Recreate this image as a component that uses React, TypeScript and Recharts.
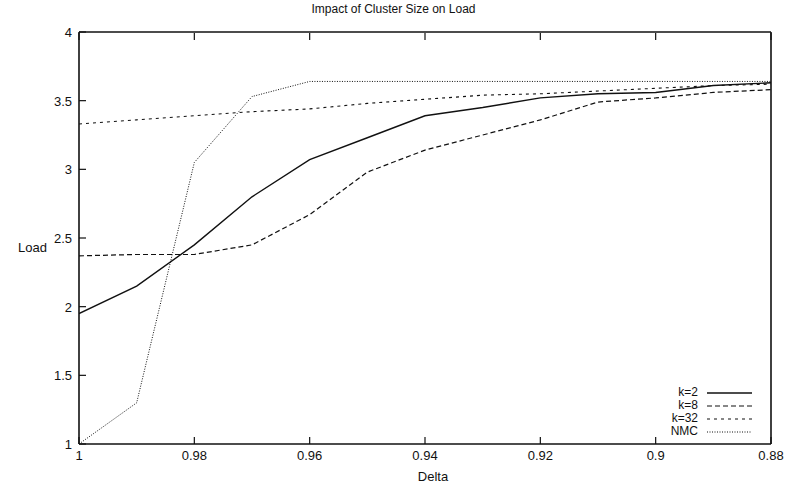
import React from 'react';
import { LineChart, Line, XAxis, YAxis } from 'recharts';

const deltas = [1, 0.99, 0.98, 0.97, 0.96, 0.95, 0.94, 0.93, 0.92, 0.91, 0.9, 0.89, 0.88];
const k2 = [1.95, 2.15, 2.45, 2.8, 3.07, 3.23, 3.39, 3.45, 3.52, 3.55, 3.56, 3.61, 3.63];
const k8 = [2.37, 2.38, 2.38, 2.45, 2.67, 2.98, 3.14, 3.25, 3.36, 3.49, 3.52, 3.56, 3.58];
const k32 = [3.33, 3.36, 3.39, 3.42, 3.44, 3.48, 3.51, 3.54, 3.55, 3.57, 3.59, 3.61, 3.62];
const nmc = [1.0, 1.3, 3.05, 3.53, 3.64, 3.64, 3.64, 3.64, 3.64, 3.64, 3.64, 3.64, 3.64];
const xTicks = [1, 0.98, 0.96, 0.94, 0.92, 0.9, 0.88];
const yTicks = [1, 1.5, 2, 2.5, 3, 3.5, 4];

const data = deltas.map((d, i) => ({ delta: d, k2: k2[i], k8: k8[i], k32: k32[i], nmc: nmc[i] }));

const series = [
  { key: 'k2', name: 'k=2', dash: undefined as string | undefined, width: 1.4 },
  { key: 'k8', name: 'k=8', dash: '5 3', width: 1.2 },
  { key: 'k32', name: 'k=32', dash: '3 4', width: 1.1 },
  { key: 'nmc', name: 'NMC', dash: '1 1.5', width: 1 },
];

const FONT = '"Liberation Sans", Arial, sans-serif';
const INK = '#111';

const BottomTick = ({ x, y, payload }: any) => (
  <g>
    <line x1={x} x2={x} y1={y - 8} y2={y - 15} stroke={INK} strokeWidth={1.2} />
    <text x={x} y={y + 8} textAnchor="middle" fontSize={13} fontFamily={FONT} fill={INK}>
      {String(payload.value)}
    </text>
  </g>
);

const LeftTick = ({ x, y, payload }: any) => (
  <g>
    <line x1={x + 7} x2={x + 14} y1={y} y2={y} stroke={INK} strokeWidth={1.2} />
    <text x={x} y={y + 5} textAnchor="end" fontSize={13} fontFamily={FONT} fill={INK}>
      {String(payload.value)}
    </text>
  </g>
);

const TopTick = ({ x, y }: any) => (
  <line x1={x} x2={x} y1={y + 1} y2={y + 8} stroke={INK} strokeWidth={1.2} />
);

const RightTick = ({ x, y }: any) => (
  <line x1={x - 1} x2={x - 8} y1={y} y2={y} stroke={INK} strokeWidth={1.2} />
);

const LegendBox = () => (
  <div style={{ position: 'absolute', left: 630, top: 386, fontFamily: FONT, fontSize: 12, color: INK }}>
    {series.map((s) => (
      <div key={s.key} style={{ display: 'flex', alignItems: 'center', height: 13 }}>
        <span style={{ width: 68, textAlign: 'right', lineHeight: '13px' }}>{s.name}</span>
        <svg width={56} height={13} style={{ marginLeft: 9 }}>
          <line x1={0} x2={45} y1={7} y2={7} stroke={INK} strokeWidth={s.width} strokeDasharray={s.dash} />
        </svg>
      </div>
    ))}
  </div>
);

export default function App() {
  return (
    <div style={{ position: 'absolute', left: 0, top: 0, width: 787, height: 486, background: '#fff' }}>
      <div style={{ position: 'absolute', top: 2, left: 0, width: 787, textAlign: 'center', fontFamily: FONT, fontSize: 12, color: INK }}>
        Impact of Cluster Size on Load
      </div>
      <LineChart width={787} height={486} data={data} margin={{ top: 31, right: 15, left: 0, bottom: 0 }}>
        <XAxis
          dataKey="delta"
          type="number"
          domain={[0.88, 1]}
          ticks={xTicks}
          reversed
          height={42}
          tickSize={0}
          tickMargin={8}
          tickLine={false}
          axisLine={{ stroke: INK, strokeWidth: 1.6 }}
          tick={<BottomTick />}
          allowDataOverflow
        />
        <XAxis
          xAxisId="top"
          dataKey="delta"
          type="number"
          orientation="top"
          domain={[0.88, 1]}
          ticks={xTicks}
          reversed
          height={1}
          tickSize={0}
          tickMargin={0}
          tickLine={false}
          axisLine={{ stroke: INK, strokeWidth: 1.6 }}
          tick={<TopTick />}
        />
        <YAxis
          type="number"
          domain={[1, 4]}
          ticks={yTicks}
          width={79}
          tickSize={0}
          tickMargin={7}
          tickLine={false}
          axisLine={{ stroke: INK, strokeWidth: 1.6 }}
          tick={<LeftTick />}
        />
        <YAxis
          yAxisId="right"
          type="number"
          orientation="right"
          domain={[1, 4]}
          ticks={yTicks}
          width={1}
          tickSize={0}
          tickMargin={0}
          tickLine={false}
          axisLine={{ stroke: INK, strokeWidth: 1.6 }}
          tick={<RightTick />}
        />
        {series.map((s) => (
          <Line
            key={s.key}
            type="linear"
            dataKey={s.key}
            name={s.name}
            stroke={INK}
            strokeWidth={s.width}
            strokeDasharray={s.dash}
            dot={false}
            isAnimationActive={false}
          />
        ))}
      </LineChart>
      <div style={{ position: 'absolute', left: 18, top: 240, fontFamily: FONT, fontSize: 13, color: INK }}>Load</div>
      <div style={{ position: 'absolute', left: 0, top: 469, width: 787, paddingLeft: 79, boxSizing: 'border-box', textAlign: 'center', fontFamily: FONT, fontSize: 13, color: INK }}>
        Delta
      </div>
      <LegendBox />
    </div>
  );
}
